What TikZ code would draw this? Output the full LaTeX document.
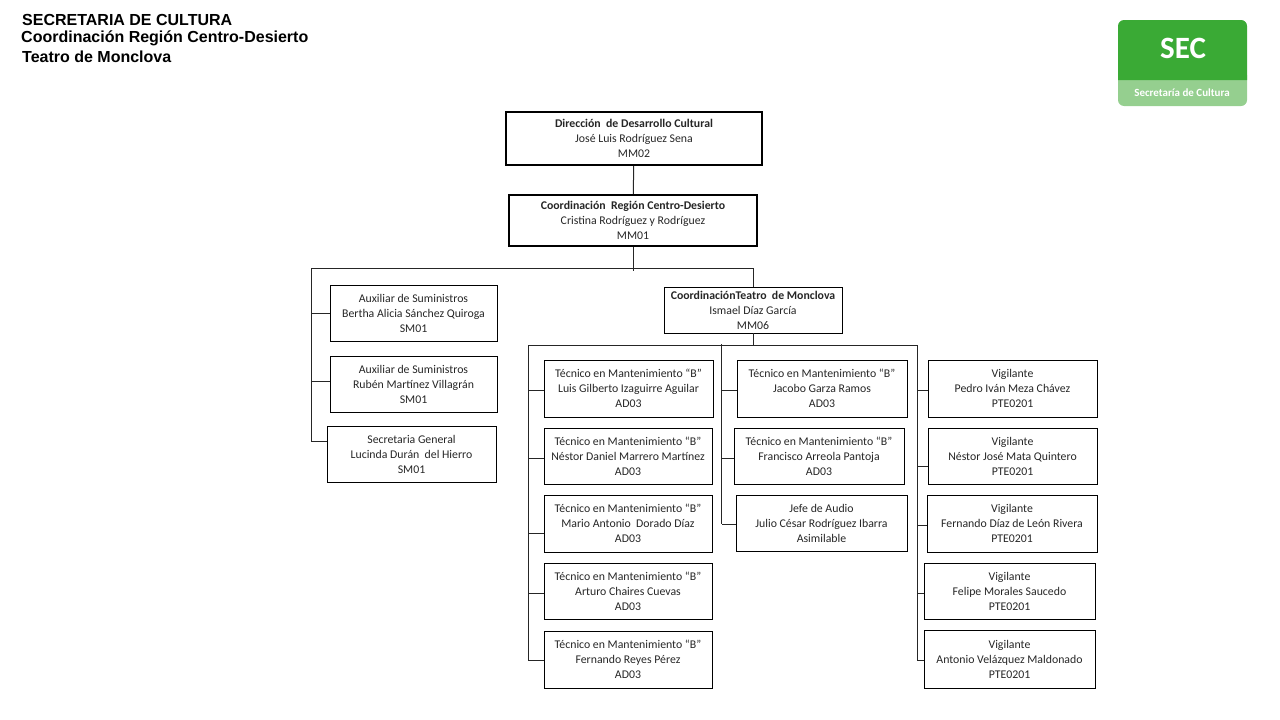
\documentclass[tikz,border=0pt]{standalone}
\usepackage{fontspec}
\usepackage{xcolor}
\setmainfont{Carlito}
\newfontfamily\headfont{Liberation Sans}
\definecolor{secgreen}{HTML}{3AAA35}
\definecolor{seclight}{HTML}{95CF8F}
\definecolor{linegray}{HTML}{262626}
\begin{document}
\begin{tikzpicture}[x=1pt,y=-1pt,
    every node/.style={shape=rectangle,align=center,inner sep=0pt,text=black!85},
    box/.style={draw=black,line width=0.8pt,font=\fontsize{11.8}{15}\selectfont},
    topbox/.style={box,line width=2.2pt},
    link/.style={draw=linegray,line width=1pt},
    head/.style={anchor=west,text=black,font=\headfont\bfseries\fontsize{16}{19}\selectfont}]
    \useasboundingbox (0,0) rectangle (1280,720);
    % heading
    \node[head] (title1) at (22,19.5) {SECRETARIA DE CULTURA};
    \node[head] (title2) at (21,38) {Coordinación Región Centro-Desierto};
    \node[head] (title3) at (22,57) {Teatro de Monclova};
    % logo
    \fill[seclight] (1118,75) -- (1118,100) arc[start angle=180,end angle=90,radius=6] -- (1241,106) arc[start angle=90,end angle=0,radius=6] -- (1247,75) -- cycle;
    \fill[secgreen] (1118,80) -- (1118,26) arc[start angle=180,end angle=270,radius=6] -- (1241,20) arc[start angle=270,end angle=360,radius=6] -- (1247,80) -- cycle;
    \node[text=white,font=\bfseries\fontsize{31}{31}\selectfont] (logotext) at (1183,48) {SEC};
    \node[text=white,font=\bfseries\fontsize{11}{11}\selectfont] (logosub) at (1182,93) {Secretaría de Cultura};
    % top of the chart
    \node[topbox,minimum width=256pt,minimum height=53pt] (direccion) at (634,138.5) {\textbf{Dirección~ de Desarrollo Cultural}\\José Luis Rodríguez Sena\\MM02};
    \node[topbox,minimum width=248pt,minimum height=51pt] (region) at (633,220.5) {\textbf{Coordinación~ Región Centro-Desierto}\\Cristina Rodríguez y Rodríguez\\MM01};
    \node[box,minimum width=178pt,minimum height=46pt] (monclova) at (753,310) {\textbf{CoordinaciónTeatro~ de Monclova}\\Ismael Díaz García\\MM06};
    % left column
    \node[box,minimum width=167pt,minimum height=56pt] (aux1) at (413.5,313) {Auxiliar de Suministros\\Bertha Alicia Sánchez Quiroga\\SM01};
    \node[box,minimum width=167pt,minimum height=56pt] (aux2) at (413.5,384) {Auxiliar de Suministros\\Rubén Martínez Villagrán\\SM01};
    \node[box,minimum width=169pt,minimum height=56pt] (secretaria) at (411.5,454) {Secretaria General\\Lucinda Durán~ del Hierro\\SM01};
    % technicians
    \node[box,minimum width=169pt,minimum height=57pt] (tec1) at (628.5,388.5) {Técnico en Mantenimiento “B”\\Luis Gilberto Izaguirre Aguilar\\AD03};
    \node[box,minimum width=168pt,minimum height=56pt] (tec2) at (628,456) {Técnico en Mantenimiento “B”\\Néstor Daniel Marrero Martínez\\AD03};
    \node[box,minimum width=168pt,minimum height=57pt] (tec3) at (628,523.5) {Técnico en Mantenimiento “B”\\Mario Antonio~ Dorado Díaz\\AD03};
    \node[box,minimum width=168pt,minimum height=56pt] (tec4) at (628,591) {Técnico en Mantenimiento “B”\\Arturo Chaires Cuevas\\AD03};
    \node[box,minimum width=168pt,minimum height=57pt] (tec5) at (628,659.5) {Técnico en Mantenimiento “B”\\Fernando Reyes Pérez\\AD03};
    \node[box,minimum width=170pt,minimum height=57pt] (tec6) at (822,388.5) {Técnico en Mantenimiento “B”\\Jacobo Garza Ramos\\AD03};
    \node[box,minimum width=170pt,minimum height=56pt] (tec7) at (819,456) {Técnico en Mantenimiento “B”\\Francisco Arreola Pantoja\\AD03};
    \node[box,minimum width=171pt,minimum height=56pt] (audio) at (821.5,523) {Jefe de Audio\\Julio César Rodríguez Ibarra\\Asimilable};
    % guards
    \node[box,minimum width=169pt,minimum height=57pt] (vig1) at (1012.5,388.5) {Vigilante\\Pedro Iván Meza Chávez\\PTE0201};
    \node[box,minimum width=169pt,minimum height=56pt] (vig2) at (1012.5,456) {Vigilante\\Néstor José Mata Quintero\\PTE0201};
    \node[box,minimum width=170pt,minimum height=57pt] (vig3) at (1012,523.5) {Vigilante\\Fernando Díaz de León Rivera\\PTE0201};
    \node[box,minimum width=171pt,minimum height=56pt] (vig4) at (1009.5,591) {Vigilante\\Felipe Morales Saucedo\\PTE0201};
    \node[box,minimum width=171pt,minimum height=58pt] (vig5) at (1009.5,659) {Vigilante\\Antonio Velázquez Maldonado\\PTE0201};
    % bus points
    \coordinate (busa) at (311,268);
    \coordinate (busb) at (633,271);
    \coordinate (enda) at (311,441);
    \coordinate (busc) at (528,345.5);
    \coordinate (busd) at (721.5,344);
    \coordinate (buse) at (917.5,345.5);
    % connectors
    \draw[link] (direccion) -- (region);
    \draw[link] (region.south) -- (busb);
    \draw[link] (enda) -- (busa) -| (monclova.north);
    \draw[link] (busc |- 0,660.5) -- (busc) -- (buse) -- (buse |- 0,660.5);
    \draw[link] (monclova.south) -- (monclova.south |- buse);
    \draw[link] (busd) -- (busd |- 0,524);
    \foreach \n/\y in {aux1/313,aux2/381,secretaria/441} \draw[link] (\n.west |- 0,\y) -- (busa |- 0,\y);
    \foreach \n/\y in {tec1/390.5,tec2/458,tec3/533,tec4/593,tec5/660.5} \draw[link] (\n.west |- 0,\y) -- (busc |- 0,\y);
    \foreach \n/\y in {tec6/390.5,tec7/458,audio/524} \draw[link] (\n.west |- 0,\y) -- (busd |- 0,\y);
    \foreach \n/\y in {vig1/390.5,vig2/466,vig3/525.5,vig4/593,vig5/660.5} \draw[link] (\n.west |- 0,\y) -- (buse |- 0,\y);
\end{tikzpicture}
\end{document}
